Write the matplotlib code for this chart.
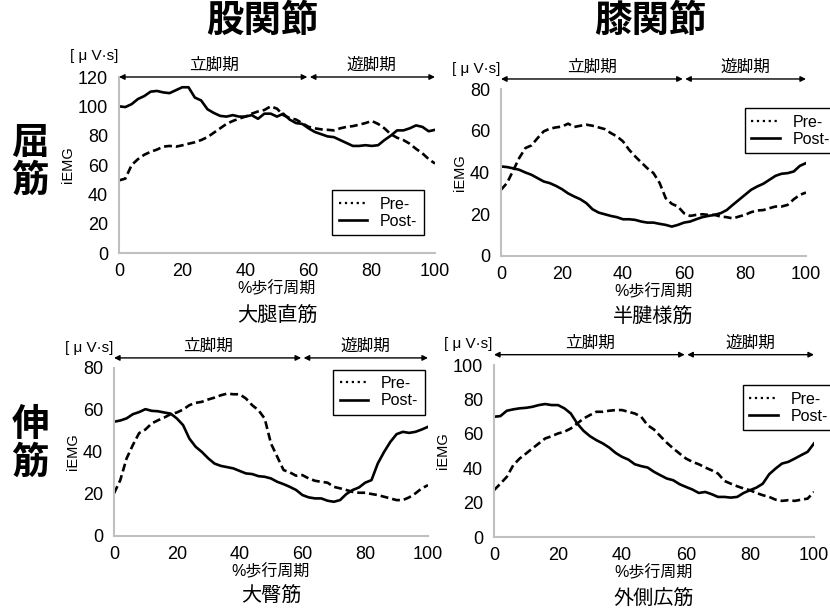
import matplotlib
matplotlib.use("Agg")
import matplotlib.pyplot as plt
from matplotlib.lines import Line2D

plt.rcParams['font.family'] = ['Liberation Sans', 'Noto Sans CJK JP', 'DejaVu Sans']

# %歩行周期 (0, 2, 4, ... 100)
x = list(range(0, 101, 2))

# 大腿直筋
rf_pre = [49.5, 50.7, 60, 64, 67, 69, 70.5, 72.5, 73, 72.5, 73.4, 74.5, 75.5, 77, 79, 82, 85, 88, 90, 91.6,
          93, 95, 96.5, 97.5, 100, 98.4, 94, 92, 91, 88.5, 86, 85, 84.3, 84, 83.6, 85, 86, 86.5, 87.5, 88.6,
          90, 88, 85, 81, 78.6, 77, 74.5, 71, 68, 64, 61]
rf_post = [100, 99.5, 101.5, 105, 107, 110, 110.5, 109.5, 109, 111, 113, 113, 106, 104, 98, 95.5, 93.5, 93, 94, 93,
           93, 94, 91.5, 95, 95, 93, 95, 91, 88.6, 88, 85, 82.5, 81, 79.5, 79, 77, 75, 73, 73, 73.5,
           73, 73.5, 77, 80, 83.6, 83.6, 85, 87, 86, 83, 84]

# 半腱様筋
st_pre = [31.7, 35, 41, 47, 51.7, 53, 56.5, 59.7, 61, 61.6, 62, 63.4, 61.8, 62.4, 62.9, 62.4, 61.6, 60.8, 58.9, 57.3,
          54.9, 50.9, 47.7, 44.8, 42, 39.7, 35, 27.7, 25, 23.7, 20.5, 19.2, 19.7, 20, 19.7, 19.7, 18.9, 18.6, 18, 18.9,
          19.7, 21, 21.8, 22, 22.9, 23.7, 23.7, 24.5, 27.2, 29.3, 30.4]
st_post = [42.9, 42.6, 42, 41.3, 40, 38.9, 37.3, 35.7, 34.9, 33.6, 32, 30, 28.5, 27.2, 25.3, 22.4, 20.8, 20, 19.2, 18.6,
           17.6, 17.6, 17.3, 16.5, 16, 16, 15.4, 14.9, 14.1, 14.9, 16, 16.5, 17.6, 18.6, 19.2, 19.7, 20.5, 22, 24.5, 26.9,
           29.3, 31.7, 33.3, 34.6, 36.5, 38.4, 39.4, 39.7, 40.5, 43.2, 44.5]

# 大臀筋
gm_pre = [20.3, 26.6, 36.9, 43.3, 49, 50.7, 53.6, 55.1, 56.4, 58, 58.8, 60.2, 62.3, 63.4, 63.9, 65, 65.9, 67, 67.8, 67.5,
          67.5, 65.5, 62.3, 59.9, 55.9, 44, 37.7, 31.4, 30.3, 28.7, 29, 27.4, 26.3, 25.8, 25.4, 23.4, 22.7, 21.9, 21, 20.6,
          20.6, 20, 19.5, 18.7, 17.9, 17.1, 17.1, 18.4, 20.3, 22.7, 24.2]
gm_post = [54.4, 55, 56, 58, 59, 60.4, 59.6, 59.4, 58.8, 58.3, 56, 52.8, 46.4, 42.5, 40, 37, 34.5, 33.4, 32.8, 32.2,
           31, 29.8, 29.5, 28.5, 28.2, 27.4, 25.8, 24.7, 23.4, 21.9, 19.5, 18.4, 17.9, 17.9, 16.8, 16.3, 17.1, 20, 21.9, 23.1,
           25.4, 26.6, 34.5, 40, 44.8, 48.5, 49.6, 49.1, 49.6, 50.7, 52]

# 外側広筋
vl_pre = [27.2, 31, 35, 41.7, 45.6, 48.5, 51.5, 54.4, 57.3, 58.6, 60.2, 61.2, 63.1, 66, 68.9, 70.9, 72.8, 72.8, 73.4, 73.8,
          73.8, 72.8, 71.8, 69.9, 65, 62.5, 58.6, 54.8, 51.5, 48.5, 45.6, 43.7, 42.3, 40.4, 38.8, 36.9, 32.6, 31, 29.5, 28.2,
          27.2, 25.6, 24.3, 23.3, 21.7, 21, 21.4, 21, 21.7, 22.3, 26.2]
vl_post = [69.9, 70.3, 73.4, 74.2, 74.8, 75.1, 75.7, 76.7, 77.3, 76.7, 76.7, 74.8, 71.8, 66, 61.7, 58.6, 56.3, 54.4, 52, 48.9,
           46.6, 45, 42.3, 41.2, 40.4, 37.9, 35.9, 34, 33, 30.7, 29.1, 27.6, 25.6, 26.2, 24.9, 23.3, 23.3, 22.9, 23.3, 25.6,
           27.2, 28.7, 31, 36.5, 39.8, 42.7, 43.7, 45.6, 47.6, 49.5, 54.4]

W, H = 830, 613

def px(l, t, r, b):
    return [l / W, 1 - b / H, (r - l) / W, (b - t) / H]

panels = [
    # pos, pre, post, ymax, muscle, legend loc, legend anchor
    (px(119, 77, 435, 253), rf_pre, rf_post, 120, '大腿直筋', 'lower right', (0.965, 0.10)),
    (px(501, 89, 806, 256), st_pre, st_post, 80, '半腱様筋', 'lower left', (0.80, 0.615)),
    (px(114, 368, 428, 536), gm_pre, gm_post, 80, '大臀筋', 'upper right', (0.99, 0.99)),
    (px(494, 365, 814, 537), vl_pre, vl_post, 100, '外側広筋', 'lower left', (0.778, 0.62)),
]

fig = plt.figure(figsize=(8.3, 6.13), dpi=100)

for pos, pre, post, ymax, muscle, lloc, lanchor in panels:
    ax = fig.add_axes(pos)
    ax.plot(x, pre, color='black', lw=1.9, linestyle=(0, (3, 1.5)))
    ax.plot(x, post, color='black', lw=1.9)
    ax.set_xlim(0, 100)
    ax.set_ylim(0, ymax)
    ax.set_xticks(range(0, 101, 20))
    ax.set_yticks(range(0, ymax + 1, 20))
    ax.tick_params(length=0, labelsize=13)
    ax.tick_params(axis='y', pad=8)
    ax.tick_params(axis='x', pad=7)
    for s in ['top', 'right']:
        ax.spines[s].set_visible(False)
    for s in ['left', 'bottom']:
        ax.spines[s].set_color('#c0c0c0')
        ax.spines[s].set_linewidth(1.5)
    ax.set_xlabel('%歩行周期', fontsize=11.5, labelpad=1)
    ax.set_ylabel('iEMG', fontsize=10.5, labelpad=2)
    ax.text(-0.08, 1.12, '[ μ V·s]', transform=ax.transAxes, ha='center', va='center', fontsize=11)
    ax.text(0.5, -0.36, muscle, transform=ax.transAxes, ha='center', va='center', fontsize=14.5)

    # 立脚期 / 遊脚期 arrows
    ya = 1.0 if ymax == 120 else 1.06
    ax.annotate('', xy=(0, ya), xytext=(59.6, ya), xycoords=('data', 'axes fraction'),
                arrowprops=dict(arrowstyle='<|-|>', color='black', lw=1, mutation_scale=8,
                                shrinkA=0, shrinkB=0), annotation_clip=False)
    ax.annotate('', xy=(60.4, ya), xytext=(100, ya), xycoords=('data', 'axes fraction'),
                arrowprops=dict(arrowstyle='<|-|>', color='black', lw=1, mutation_scale=8,
                                shrinkA=0, shrinkB=0), annotation_clip=False)
    ax.text(30, ya + 0.025, '立脚期', transform=ax.get_xaxis_transform(), ha='center', va='bottom', fontsize=12)
    ax.text(80, ya + 0.025, '遊脚期', transform=ax.get_xaxis_transform(), ha='center', va='bottom', fontsize=12)

    handles = [Line2D([], [], color='black', lw=1.6, linestyle=':'),
               Line2D([], [], color='black', lw=1.9)]
    leg = ax.legend(handles, ['Pre-', 'Post-'], loc=lloc, bbox_to_anchor=lanchor, fontsize=11.5,
                    fancybox=False, framealpha=1, edgecolor='black', borderaxespad=0,
                    handlelength=1.8, handletextpad=0.8, labelspacing=0.15, borderpad=0.4)
    leg.get_frame().set_linewidth(1.0)

fig.text(262 / W, 1 - 22 / H, '股関節', ha='center', va='center', fontsize=27, fontweight='bold')
fig.text(650 / W, 1 - 22 / H, '膝関節', ha='center', va='center', fontsize=27, fontweight='bold')
fig.text(30 / W, 1 - 163 / H, '屈\n筋', ha='center', va='center', fontsize=27, fontweight='bold', linespacing=1.05)
fig.text(30 / W, 1 - 445 / H, '伸\n筋', ha='center', va='center', fontsize=27, fontweight='bold', linespacing=1.05)

plt.savefig('out.png', dpi=100)
